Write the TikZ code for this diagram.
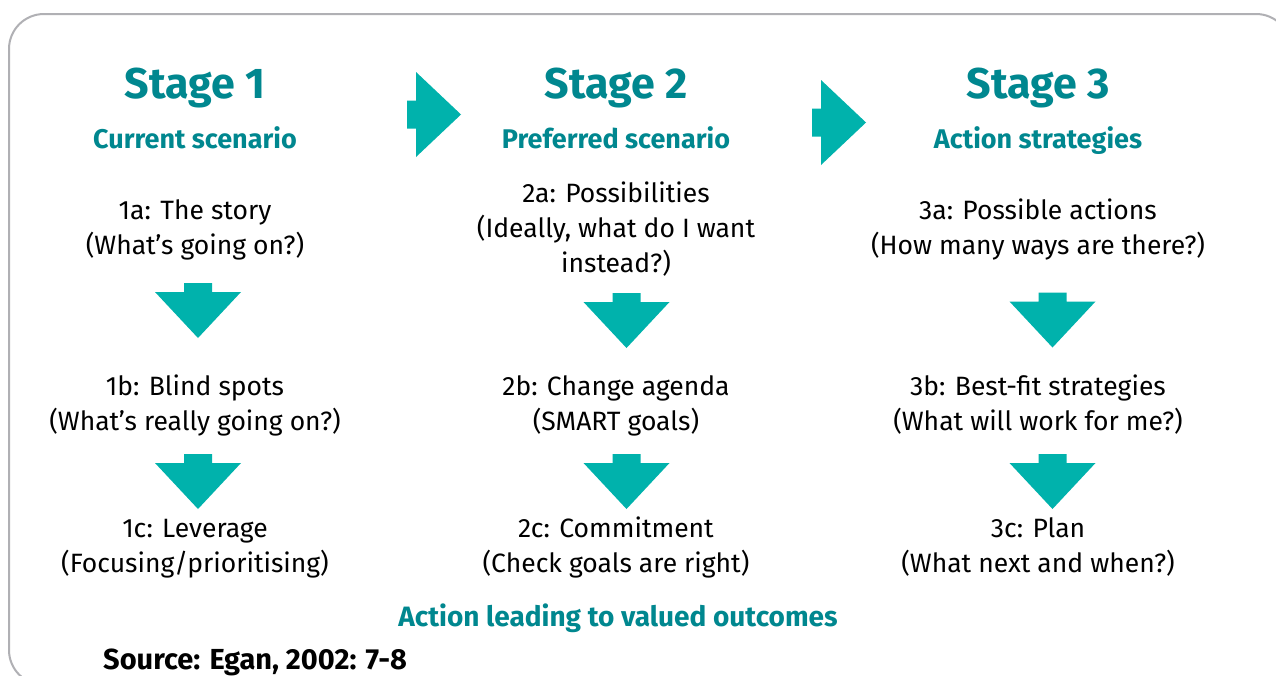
\documentclass[tikz,border=0pt]{standalone}
\usepackage{fontspec}
\setmainfont{Fira Sans}
\definecolor{tealtext}{HTML}{00878F}
\definecolor{tealarrow}{HTML}{00B2AC}
\definecolor{framegray}{HTML}{B0B0B4}
\begin{document}
\begin{tikzpicture}[x=1pt,y=-1pt,
  title/.style={font=\fontsize{43}{52}\selectfont\bfseries, text=tealtext, anchor=base, inner sep=0},
  subtitle/.style={font=\fontsize{27}{32}\selectfont\bfseries, text=tealtext, anchor=base, inner sep=0},
  body/.style={font=\fontsize{26.5}{35}\selectfont, align=center, anchor=base, inner sep=0},
  arrowfill/.style={fill=tealarrow},
  downarr/.pic={\fill[arrowfill] (-14,0) -- (14,0) -- (14,9) -- (43,9) -- (0,55) -- (-43,9) -- (-14,9) -- cycle;},
  rightarr/.pic={\fill[arrowfill] (0,-14) -- (9,-14) -- (9,-42.5) -- (54,0) -- (9,42.5) -- (9,14) -- (0,14) -- cycle;}
]
\useasboundingbox (0,0) rectangle (1276,675);
\fill[white] (0,0) rectangle (1276,675);
\draw[framegray, line width=2pt, rounded corners=35pt] (9,14) rectangle (1291,685);

% titles
\node[title] (t1) at (195,98) {Stage 1};
\node[title] (t2) at (616,98) {Stage 2};
\node[title] (t3) at (1038,98) {Stage 3};
\node[subtitle] (s1) at (195,148) {Current scenario};
\node[subtitle] (s2) at (616,148) {Preferred scenario};
\node[subtitle] (s3) at (1038,148) {Action strategies};

% stage arrows
\pic at (407,114.5) {rightarr};
\pic at (812,122.5) {rightarr};

% stage 1 (anchor = baseline of the last line)
\node[body] (a1) at (195,254) {1a: The story\\(What’s going on?)};
\node[body] (b1) at (195,430) {1b: Blind spots\\(What’s really going on?)};
\node[body] (c1) at (195,572) {1c: Leverage\\(Focusing/prioritising)};
\pic at (198,283) {downarr};
\pic at (198,454) {downarr};

% stage 2
\node[body] (a2) at (616,272) {2a: Possibilities\\(Ideally, what do I want\\instead?)};
\node[body] (b2) at (616,430) {2b: Change agenda\\(SMART goals)};
\node[body] (c2) at (616,572) {2c: Commitment\\(Check goals are right)};
\pic at (626.5,293) {downarr};
\pic at (626.5,454) {downarr};

% stage 3
\node[body] (a3) at (1038,254) {3a: Possible actions\\(How many ways are there?)};
\node[body] (b3) at (1038,430) {3b: Best-fit strategies\\(What will work for me?)};
\node[body] (c3) at (1038,572) {3c: Plan\\(What next and when?)};
\pic at (1052.5,292.5) {downarr};
\pic at (1052.5,454) {downarr};

% footer
\node[font=\fontsize{28}{32}\selectfont\bfseries, text=tealtext, anchor=base, inner sep=0] (out) at (618,626) {Action leading to valued outcomes};
\node[font=\fontsize{29}{32}\selectfont\bfseries, anchor=base west, inner sep=0] (src) at (103,669) {Source: Egan, 2002: 7-8};
\end{tikzpicture}
\end{document}
